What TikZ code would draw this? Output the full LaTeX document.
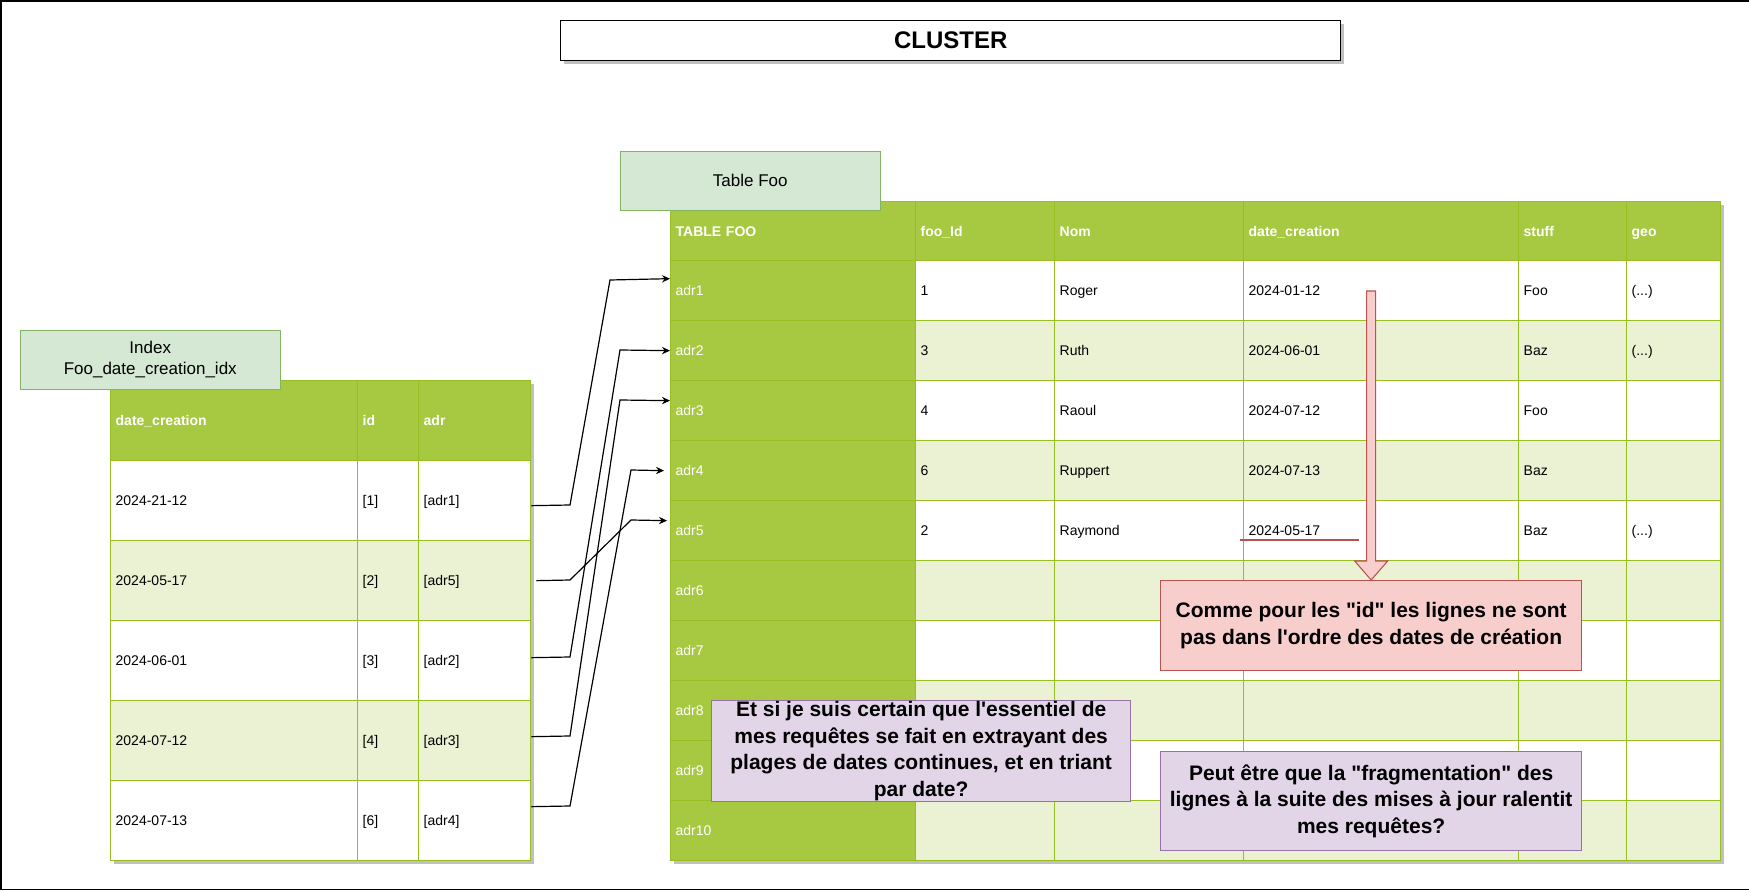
\documentclass[tikz,border=0pt]{standalone}
\usepackage{fontspec}
\setmainfont{Liberation Sans}[Ligatures=TeXOff]
\usepackage{xcolor}
\usetikzlibrary{arrows.meta, calc, shadows}
\definecolor{tblgreen}{HTML}{A7C942}
\definecolor{tblline}{HTML}{98BF21}
\definecolor{rowlight}{HTML}{EAF2D3}
\definecolor{lblfill}{HTML}{D5E8D4}
\definecolor{lblline}{HTML}{82B366}
\definecolor{notered}{HTML}{F8CECC}
\definecolor{noteredline}{HTML}{B85450}
\definecolor{notepurple}{HTML}{E1D5E7}
\definecolor{notepurpleline}{HTML}{9673A6}
\definecolor{shadowgray}{HTML}{C0C0C0}
\newcommand{\pxu}{0.75pt}
\newcommand{\geodots}{(...)}

\tikzset{
  tcell/.style={draw=tblline, line width=1pt, anchor=north west, inner xsep=5*\pxu,
                inner ysep=0pt, align=left, font=\fontsize{10.5}{12}\selectfont,
                text height=7.6pt, text depth=0pt},
  hcell/.style={tcell, fill=tblgreen, text=white, font=\fontsize{10.5}{12}\selectfont\bfseries},
  acell/.style={tcell, fill=tblgreen, text=white},
  lblbox/.style={draw=lblline, fill=lblfill, anchor=north west, align=center,
                 minimum width=260*\pxu, minimum height=59*\pxu,
                 font=\fontsize{12.75}{15.9}\selectfont},
  notebox/.style={anchor=north west, align=center, inner sep=0pt, line width=1pt,
                  font=\fontsize{15.75}{19.9}\selectfont\bfseries},
  link/.style={-{Stealth[length=6pt, width=5.5pt]}, line width=0.9pt},
}

\begin{document}
\begin{tikzpicture}[x=\pxu, y=-\pxu]
  \useasboundingbox (0,0) rectangle (1749,891);
  \draw[line width=1.2pt] (1749,1) -- (1,1) -- (1,889.5) -- (1749,889.5);

  \node[draw, line width=1pt, fill=white, anchor=north west, minimum width=780*\pxu,
        minimum height=40*\pxu, font=\fontsize{18}{21}\selectfont\bfseries,
        drop shadow={shadow xshift=2.5pt, shadow yshift=-2.5pt, fill=shadowgray, opacity=1}]
        (cluster) at (560,20) {CLUSTER};

  % index
  \fill[shadowgray] (114,384) rectangle (534,864);
  \foreach \txt/\x/\w [count=\c] in {date\_creation/110/247, id/357/61, adr/418/112}
    \node[hcell, text width=(\w-10)*\pxu, minimum height=80*\pxu] (ih\c) at (\x,380) {\txt};
  \foreach \dat/\num/\adr [count=\r] in {2024-21-12/1/adr1, 2024-05-17/2/adr5,
      2024-06-01/3/adr2, 2024-07-12/4/adr3, 2024-07-13/6/adr4} {
    \ifodd\r\relax \def\rowfill{white}\else \def\rowfill{rowlight}\fi
    \node[tcell, fill=\rowfill, text width=237*\pxu, minimum height=80*\pxu] (idate\r) at (110,{380+80*\r}) {\dat};
    \node[tcell, fill=\rowfill, text width=51*\pxu, minimum height=80*\pxu] (iid\r) at (357,{380+80*\r}) {[\num]};
    \node[tcell, fill=\rowfill, text width=102*\pxu, minimum height=80*\pxu] (iadr\r) at (418,{380+80*\r}) {[\adr]};
  }

  % table foo
  \fill[shadowgray] (674,205) rectangle (1724,864);
  \foreach \txt/\x/\w [count=\c] in {TABLE FOO/670/245, foo\_Id/915/139, Nom/1054/189,
      date\_creation/1243/275, stuff/1518/108, geo/1626/94}
    \node[hcell, text width=(\w-10)*\pxu, minimum height=59*\pxu] (fh\c) at (\x,201) {\txt};
  \foreach \adr/\fid/\nom/\dat/\stf/\geo [count=\r] in {adr1/1/Roger/2024-01-12/Foo/\geodots,
      adr2/3/Ruth/2024-06-01/Baz/\geodots, adr3/4/Raoul/2024-07-12/Foo/{},
      adr4/6/Ruppert/2024-07-13/Baz/{}, adr5/2/Raymond/2024-05-17/Baz/\geodots,
      adr6/{}/{}/{}/{}/{}, adr7/{}/{}/{}/{}/{}, adr8/{}/{}/{}/{}/{},
      adr9/{}/{}/{}/{}/{}, adr10/{}/{}/{}/{}/{}} {
    \ifodd\r\relax \def\rowfill{white}\else \def\rowfill{rowlight}\fi
    \node[acell, text width=235*\pxu, minimum height=60*\pxu] (fadr\r) at (670,{200+60*\r}) {\adr};
    \node[tcell, fill=\rowfill, text width=129*\pxu, minimum height=60*\pxu] (fid\r) at (915,{200+60*\r}) {\fid};
    \node[tcell, fill=\rowfill, text width=179*\pxu, minimum height=60*\pxu] (fnom\r) at (1054,{200+60*\r}) {\nom};
    \node[tcell, fill=\rowfill, text width=265*\pxu, minimum height=60*\pxu] (fdate\r) at (1243,{200+60*\r}) {\dat};
    \node[tcell, fill=\rowfill, text width=98*\pxu, minimum height=60*\pxu] (fstuff\r) at (1518,{200+60*\r}) {\stf};
    \node[tcell, fill=\rowfill, text width=84*\pxu, minimum height=60*\pxu] (fgeo\r) at (1626,{200+60*\r}) {\geo};
  }

  \node[lblbox] (idxlbl) at (20,330) {Index\\Foo\_date\_creation\_idx};
  \node[lblbox] (foolbl) at (620,151) {Table Foo};

  % index -> rows
  \draw[link] ($(iadr1.east)+(0,5)$) -- (570,505) -- (610,280) -- ($(fadr1.west)+(0,-12)$);
  \draw[link] ($(iadr2.east)+(5,0)$) -- (570,580) -- (631,520) -- ($(fadr5.west)+(-3,-10)$);
  \draw[link] ($(iadr3.east)+(0,-3)$) -- (570,657) -- (620,350) -- (fadr2.west);
  \draw[link] ($(iadr4.east)+(0,-4)$) -- (570,736) -- (620,400) -- ($(fadr3.west)+(0,-10)$);
  \draw[link] ($(iadr5.east)+(0,-14)$) -- (570,806) -- (631,470) -- ($(fadr4.west)+(-6,0)$);

  \draw[noteredline, line width=0.8pt] (1240,540) -- (1359,540);

  \node[notebox, fill=notered, draw=noteredline, minimum width=421*\pxu, minimum height=90*\pxu]
    (note1) at (1160,580) {Comme pour les "id" les lignes ne sont\\pas dans l'ordre des dates de création};
  \filldraw[fill=notered, draw=noteredline, line width=0.8pt] (note1.north) -- ++(-16.5,-19)
    -- ++(12,0) -- ++(0,-270) -- ++(9,0) -- ++(0,270) -- ++(12,0) -- cycle;
  \node[notebox, fill=notepurple, draw=notepurpleline, minimum width=419*\pxu, minimum height=101*\pxu]
    (note2) at (711,700) {Et si je suis certain que l'essentiel de\\mes requêtes se fait en extrayant des\\plages de dates continues, et en triant\\par date?};
  \node[notebox, fill=notepurple, draw=notepurpleline, minimum width=421*\pxu, minimum height=99*\pxu]
    (note3) at (1160,751) {Peut être que la "fragmentation" des\\lignes à la suite des mises à jour ralentit\\mes requêtes?};
\end{tikzpicture}
\end{document}
